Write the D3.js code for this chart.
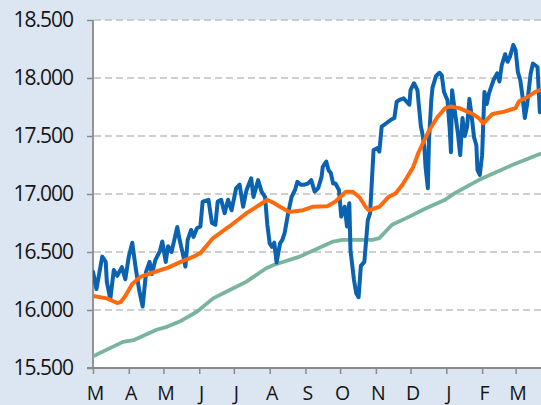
<!DOCTYPE html>
<html>
<head>
<meta charset="utf-8">
<script src="https://cdn.jsdelivr.net/npm/d3@7/dist/d3.min.js"></script>
<style>
  html, body { margin: 0; padding: 0; background: #dce6f2; }
  svg { display: block; font-family: 'Open Sans', 'Noto Sans', sans-serif; }
</style>
</head>
<body>
<svg id="chart" width="541" height="405"></svg>
<script>
// data: [days since start, index level]
const startDate = new Date(2023, 2, 1);
const endDate = new Date(2024, 2, 23);
const monthLabels = ['M', 'A', 'M', 'J', 'J', 'A', 'S', 'O', 'N', 'D', 'J', 'F', 'M'];
const yTickValues = [15500, 16000, 16500, 17000, 17500, 18000, 18500];

const price = [
  [0, 16330], [3, 16180], [8, 16460], [11, 16415], [12, 16240], [15, 16095], [18, 16345],
  [21, 16295], [25, 16370], [28, 16265], [31, 16460], [34, 16580], [37, 16360], [40, 16170],
  [43, 16030], [46, 16330], [49, 16415], [51, 16310], [54, 16430], [58, 16510], [60, 16590],
  [63, 16415], [65, 16550], [68, 16500], [73, 16715], [75, 16605], [78, 16475], [80, 16375],
  [82, 16605], [85, 16690], [87, 16630], [90, 16705], [93, 16720], [95, 16935], [100, 16950],
  [103, 16750], [106, 16735], [108, 16935], [111, 16950], [114, 16835], [117, 16950], [120, 16860],
  [124, 17050], [127, 17080], [130, 16890], [133, 17035], [137, 17135], [139, 16975], [143, 17120],
  [146, 17020], [149, 16975], [151, 16735], [153, 16575], [155, 16545], [157, 16580], [159, 16410],
  [162, 16575], [164, 16605], [166, 16665], [169, 16835], [172, 16975], [175, 17035], [177, 17105],
  [180, 17080], [183, 17080], [186, 17090], [189, 17120], [192, 17020], [195, 17050], [198, 17150],
  [199, 17235], [202, 17280], [204, 17205], [206, 17180], [208, 17090], [210, 17090], [213, 17035],
  [215, 16805], [218, 16890], [220, 16720], [222, 16920], [223, 16515], [226, 16260], [228, 16145],
  [230, 16110], [232, 16380], [235, 16415], [238, 16775], [240, 16835], [243, 17380], [246, 17395],
  [248, 17365], [250, 17580], [254, 17610], [258, 17640], [261, 17655], [263, 17795], [265, 17810],
  [269, 17825], [274, 17770], [275, 17895], [278, 17955], [281, 17895], [282, 17785], [284, 17580],
  [285, 17535], [287, 17405], [288, 17235], [290, 17050], [291, 17465], [293, 17810], [294, 17915],
  [297, 18015], [300, 18045], [302, 18025], [304, 17880], [306, 17830], [307, 17810], [309, 17550],
  [310, 17360], [311, 17895], [314, 17665], [316, 17525], [318, 17335], [320, 17655], [322, 17500],
  [324, 17580], [326, 17820], [328, 17665], [330, 17490], [332, 17420], [333, 17205], [335, 17165],
  [337, 17335], [339, 17880], [341, 17775], [343, 17870], [347, 17985], [350, 18040], [352, 17970],
  [354, 18110], [357, 18205], [359, 18140], [361, 18180], [364, 18285], [366, 18240], [368, 18050],
  [370, 17985], [372, 17840], [374, 17655], [376, 17775], [379, 18035], [381, 18125], [383, 18110],
  [385, 18095], [387, 17705]
];

const avgShort = [
  [0, 16120], [12, 16100], [21, 16060], [24, 16070], [28, 16120], [34, 16225], [41, 16285],
  [54, 16330], [65, 16365], [75, 16410], [87, 16460], [93, 16490], [104, 16620], [118, 16720],
  [133, 16835], [144, 16905], [151, 16950], [157, 16920], [162, 16890], [170, 16845], [182, 16860],
  [190, 16890], [203, 16895], [210, 16935], [219, 17020], [225, 17020], [231, 16970], [236, 16890],
  [239, 16860], [248, 16890], [256, 16975], [262, 17005], [268, 17080], [277, 17225], [282, 17360],
  [287, 17465], [291, 17545], [298, 17660], [305, 17740], [310, 17755], [317, 17740], [328, 17695],
  [334, 17655], [338, 17610], [346, 17690], [356, 17710], [366, 17740], [369, 17800], [377, 17840],
  [383, 17880], [387, 17895]
];

const avgLong = [
  [0, 15600], [26, 15725], [35, 15740], [55, 15830], [64, 15855], [75, 15900], [90, 15985],
  [104, 16100], [118, 16170], [133, 16245], [150, 16360], [157, 16390], [179, 16460], [208, 16590],
  [216, 16605], [242, 16605], [248, 16620], [259, 16735], [274, 16805], [288, 16875], [305, 16950],
  [313, 17005], [334, 17120], [363, 17250], [387, 17345]
];

const width = 541;
const height = 405;
const plot = { left: 93, right: 541, top: 20, bottom: 368 };

const germanFormat = d3.formatLocale({
  decimal: ',', thousands: '.', grouping: [3], currency: ['', ' €']
}).format(',d');

const svg = d3.select('#chart');

svg.append('rect')
  .attr('width', width)
  .attr('height', height)
  .attr('fill', '#dce6f2');

const x = d3.scaleTime().domain([startDate, endDate]).range([plot.left, plot.right]);
const y = d3.scaleLinear().domain([15500, 18500]).range([plot.bottom, plot.top]);

svg.append('rect')
  .attr('x', plot.left)
  .attr('y', plot.top)
  .attr('width', plot.right - plot.left)
  .attr('height', plot.bottom - plot.top)
  .attr('fill', '#ffffff');

svg.append('clipPath').attr('id', 'plot-clip')
  .append('rect')
  .attr('x', plot.left)
  .attr('y', plot.top - 5)
  .attr('width', plot.right - plot.left)
  .attr('height', plot.bottom - plot.top + 5);

// gridlines
svg.append('g')
  .selectAll('line')
  .data(yTickValues.slice(1))
  .join('line')
  .attr('x1', plot.left + 1)
  .attr('x2', plot.right)
  .attr('y1', (d) => y(d))
  .attr('y2', (d) => y(d))
  .attr('stroke', '#c0c0c0')
  .attr('stroke-width', 1.5)
  .attr('stroke-dasharray', '7,4');

// y axis
const axisY = d3.axisLeft(y).tickValues(yTickValues).tickSize(6).tickFormat(germanFormat).tickPadding(14);
const gy = svg.append('g')
  .attr('transform', `translate(${plot.left},0)`)
  .call(axisY);
gy.select('.domain').attr('stroke', '#8a8a8a').attr('stroke-width', 1.8).attr('d', `M0,${plot.top}V${plot.bottom}`);
gy.selectAll('.tick line').attr('stroke', '#8a8a8a').attr('stroke-width', 1.5);
gy.selectAll('.tick text')
  .attr('font-size', 21)
  .attr('letter-spacing', -1)
  .attr('fill', '#141414')
  .attr('font-family', "'Open Sans', sans-serif");

// x axis
const monthTicks = d3.timeMonth.range(startDate, endDate);
const axisX = d3.axisBottom(x)
  .tickValues(monthTicks)
  .tickSize(6)
  .tickPadding(12)
  .tickFormat((d, i) => monthLabels[i]);
const gx = svg.append('g')
  .attr('transform', `translate(0,${plot.bottom})`)
  .call(axisX);
gx.select('.domain').attr('stroke', '#8a8a8a').attr('stroke-width', 1.8).attr('d', `M${plot.left - 6},0H${plot.right}`);
gx.selectAll('.tick line').attr('stroke', '#8a8a8a').attr('stroke-width', 1.5);
gx.selectAll('.tick text')
  .attr('font-size', 19.5)
  .attr('dx', 2)
  .attr('fill', '#141414')
  .attr('font-family', "'Open Sans', sans-serif");

const line = d3.line()
  .x((d) => x(d3.timeDay.offset(startDate, d[0])))
  .y((d) => y(d[1]));

const series = [
  { data: avgLong, color: '#79b59d', width: 3.8 },
  { data: price, color: '#0a62b0', width: 4 },
  { data: avgShort, color: '#ff6a0d', width: 4 },
];

const lines = svg.append('g').attr('clip-path', 'url(#plot-clip)');
lines.selectAll('path')
  .data(series)
  .join('path')
  .attr('d', (s) => line(s.data))
  .attr('fill', 'none')
  .attr('stroke', (s) => s.color)
  .attr('stroke-width', (s) => s.width)
  .attr('stroke-linejoin', 'round')
  .attr('stroke-linecap', 'round');
</script>
</body>
</html>
